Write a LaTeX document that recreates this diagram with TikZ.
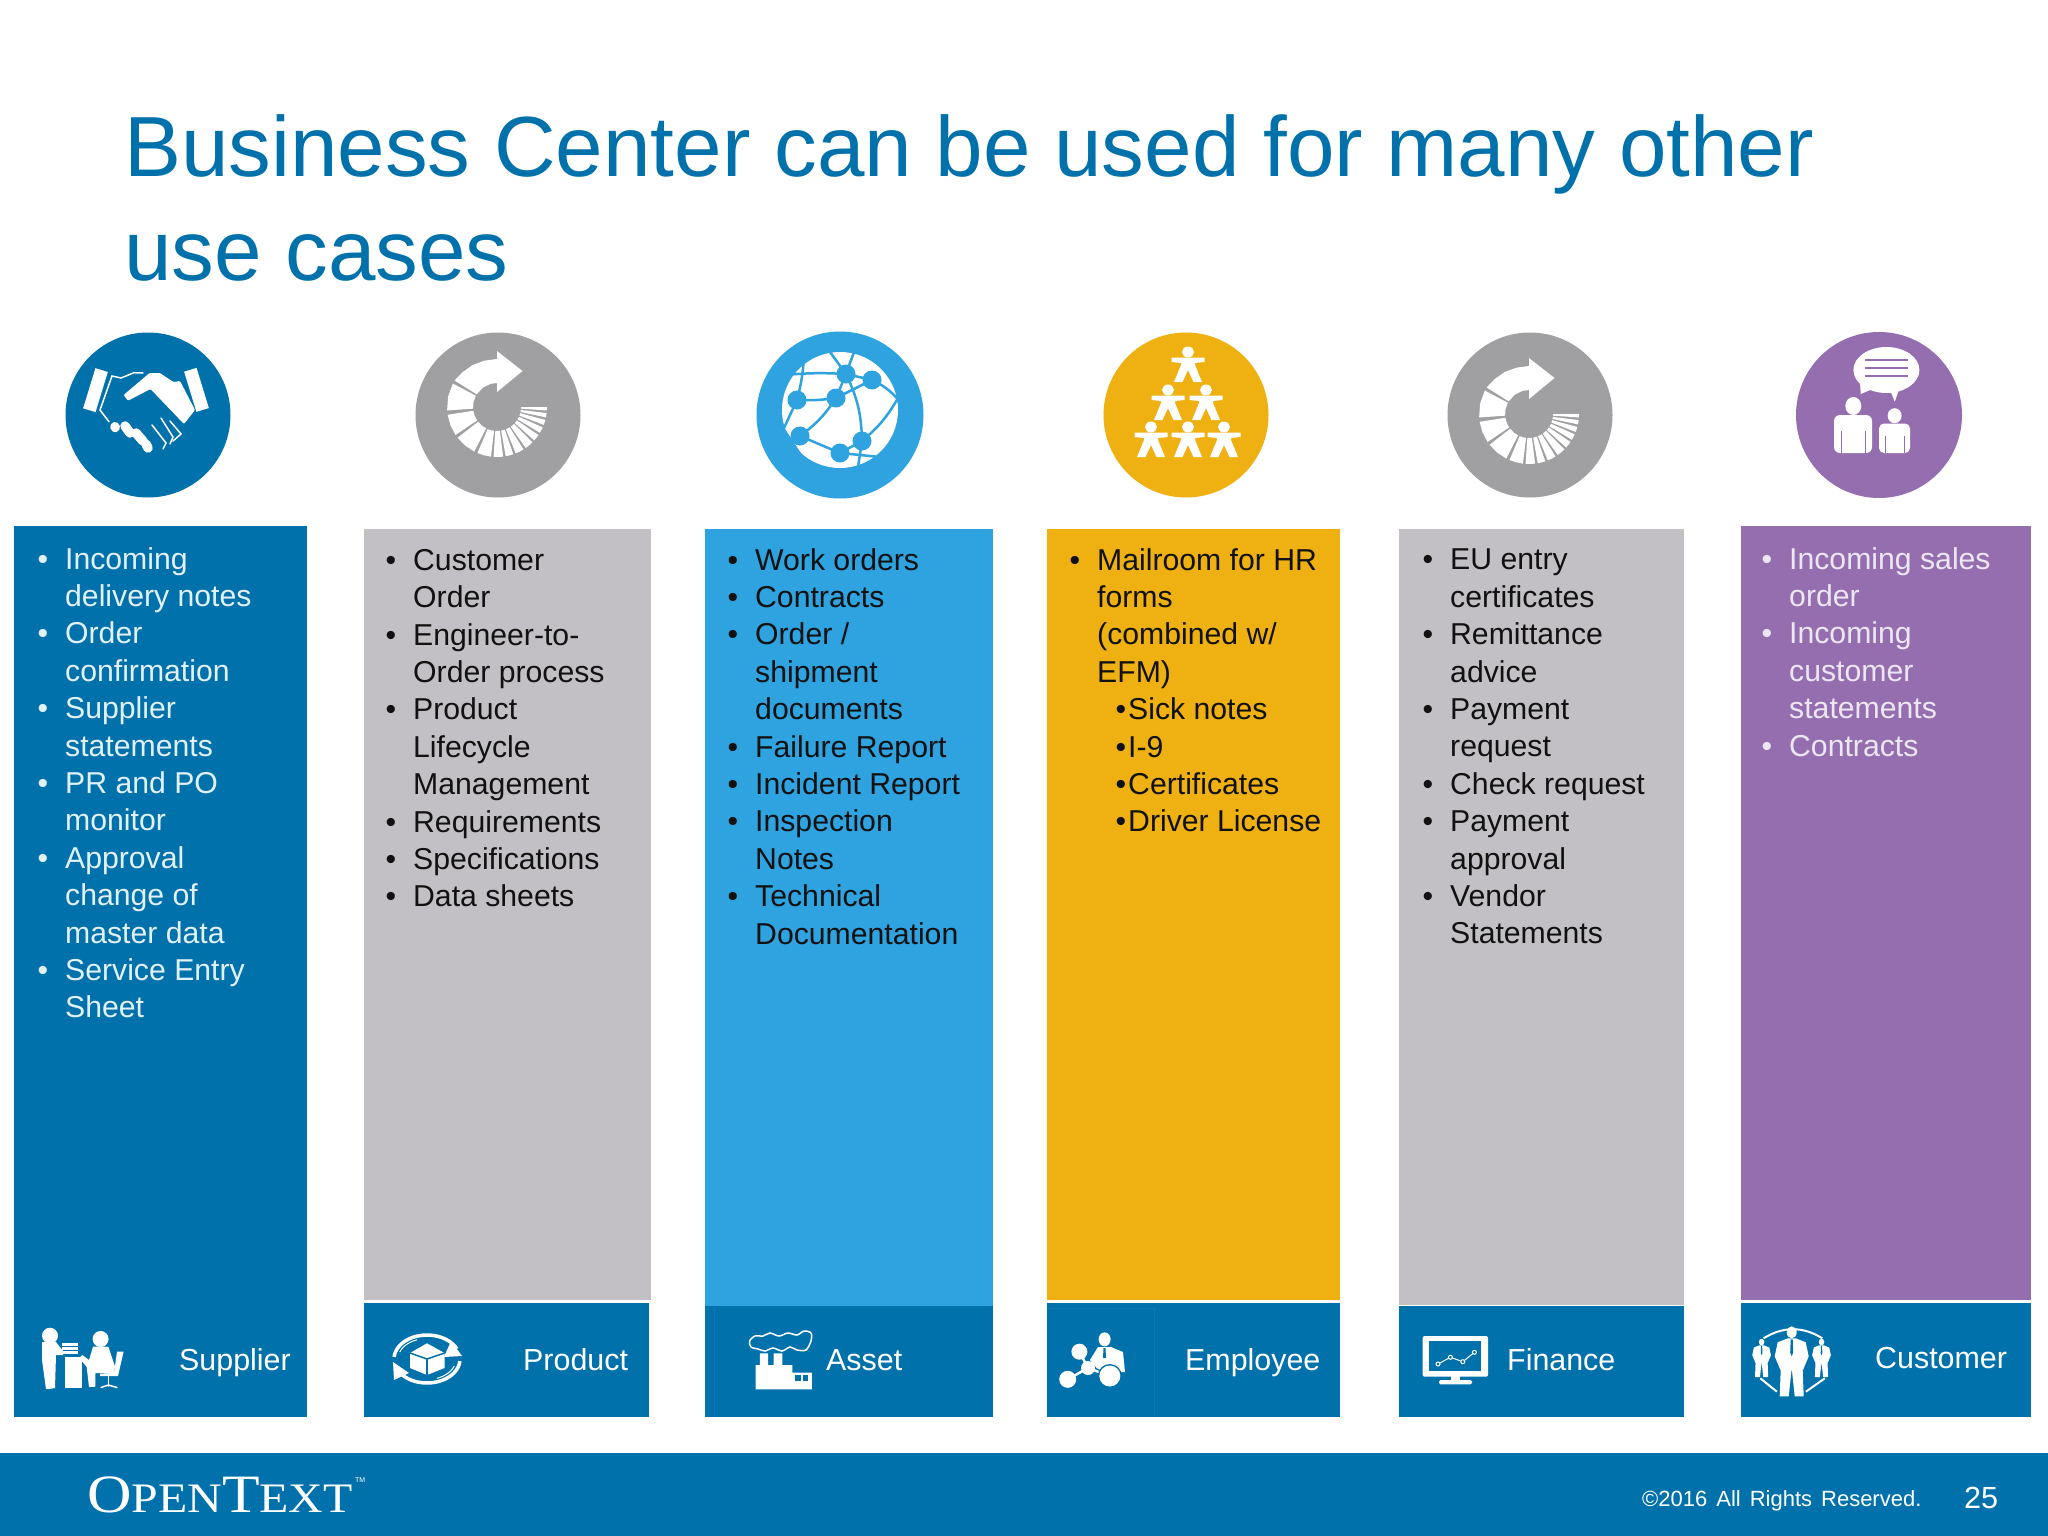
\documentclass[tikz,border=0pt]{standalone}
\usepackage{fontspec}
\setmainfont{Liberation Sans}
\newfontfamily\logofont{Liberation Serif}
\usetikzlibrary{shapes.geometric,calc}
\definecolor{oblue}{HTML}{0071AA}
\definecolor{oedge}{HTML}{0F79AF}
\definecolor{osky}{HTML}{2FA2E0}
\definecolor{ograyd}{HTML}{A09FA2}
\definecolor{ograyl}{HTML}{C2C0C4}
\definecolor{oyellow}{HTML}{EEB111}
\definecolor{opurple}{HTML}{956EB0}
\definecolor{opaleb}{HTML}{E2F1F8}
\definecolor{opalep}{HTML}{EDE6F3}
\definecolor{oink}{HTML}{111111}
\newcommand{\itm}{\leavevmode\llap{\textbullet\hspace{17pt}}}
\newcommand{\sitm}{\leavevmode\llap{\textbullet\hspace{2pt}}}
\newcommand{\spiralicon}[2]{%
  \begin{scope}[shift={(#1,#2)}, white]
    \foreach \a/\b in {0/4, 7/12, 15/21, 24/31, 34/42, 45/55, 58/68, 71/80, 83/94, 97/113, 117/142, 146/171, 176/208} {
      \fill (\a:24) -- (\a:50) -- ({(\a+\b)/2}:50) -- (\b:50) -- (\b:24) -- ({(\a+\b)/2}:24) -- cycle;
    }
    \fill (212:50) -- (225:49) -- (240:48.5) -- (255:48) -- (0,-48) -- (0,-56) -- (25.5,-36) -- (0,-15) -- (0,-24) -- (255:24) -- (235:24) -- (212:24) -- cycle;
  \end{scope}}
\newcommand{\suitman}[3]{%
  \begin{scope}[shift={(#1,#2)}, scale=#3]
    \fill[white] (0,0) ellipse (5 and 6);
    \fill[white] (-4,6) -- (4,6) -- (14,10) -- (17,24) -- (12,36) -- (11,38) -- (12,64) -- (3,64) -- (0,36) -- (-3,64) -- (-12,64) -- (-11,38) -- (-12,36) -- (-17,24) -- (-14,10) -- cycle;
    \fill[oblue] (-1,7) -- (1,7) -- (1.5,20) -- (0,24) -- (-1.5,20) -- cycle;
  \end{scope}}

\begin{document}
\begin{tikzpicture}[x=1pt, y=-1pt]
\tikzstyle{col}=[rectangle, draw=none, inner sep=0, anchor=north west]
\tikzstyle{bar}=[col, fill=oblue]
\tikzstyle{disc}=[circle, draw=none, inner sep=0]
\tikzstyle{listing}=[inner sep=0, anchor=north west, align=left, font=\fontsize{30.2}{37.4}\selectfont, oink]
\tikzstyle{lbl}=[inner sep=0, anchor=base west, white, font=\fontsize{30.4}{36}\selectfont]
\tikzstyle{icon}=[fill=white, draw=none]
\tikzstyle{wire}=[white, line width=1.5pt, line cap=round]
\tikzstyle{finger}=[white, line width=9.5pt, line cap=round]
\tikzstyle{link}=[osky, line width=2.5pt]

\useasboundingbox (0,0) rectangle (2048,1536);
\fill[white] (0,0) rectangle (2048,1536);

\node[inner sep=0, anchor=base west, oblue, align=left, font=\fontsize{85.4}{104}\selectfont] (title) at (124,280) {Business Center can be used for many other\\use cases};

\node[disc, fill=oblue,   minimum size=165] (handshake) at (148,415)  {};
\node[disc, fill=ograyd,  minimum size=165] (spirala)   at (498,415)  {};
\node[disc, fill=osky,    minimum size=167] (globe)     at (840,415)  {};
\node[disc, fill=oyellow, minimum size=165] (pyramid)   at (1186,415) {};
\node[disc, fill=ograyd,  minimum size=165] (spiralb)   at (1530,415) {};
\node[disc, fill=opurple, minimum size=166] (talk)      at (1879,415) {};

\node[col, fill=oblue,   minimum width=293, minimum height=891] (supplier) at (14,526)   {};
\node[col, fill=ograyl,  minimum width=287, minimum height=771] (product)  at (364,529)  {};
\node[col, fill=osky,    minimum width=288, minimum height=777] (asset)    at (705,529)  {};
\node[col, fill=oyellow, minimum width=293, minimum height=771] (employee) at (1046.5,529) {};
\node[col, fill=ograyl,  minimum width=285, minimum height=776] (finance)  at (1399,529) {};
\node[col, fill=opurple, minimum width=290, minimum height=774] (customer) at (1741,526) {};

\node[bar, minimum width=285, minimum height=114] (productbar)  at (364,1303)  {};
\node[bar, minimum width=288, minimum height=111] (assetbar)    at (705,1306)  {};
\node[bar, minimum width=293, minimum height=114] (employeebar) at (1046.5,1303) {};
\node[bar, minimum width=285, minimum height=111] (financebar)  at (1399,1306) {};
\node[bar, minimum width=290, minimum height=114] (customerbar) at (1741,1303) {};
\node[bar, minimum width=2048, minimum height=83] (footer)      at (0,1453)    {};

\draw[oedge, line width=1pt] (714,1308) -- (714,1416);
\draw[oedge, line width=1pt] (1047,1308) -- (1154,1308) -- (1154,1416);

\node[listing, opaleb] (suppliertxt) at ([shift={(51,21)}]supplier.north west) {%
\itm Incoming\\delivery notes\\
\itm Order\\confirmation\\
\itm Supplier\\statements\\
\itm PR and PO\\monitor\\
\itm Approval\\change of\\master data\\
\itm Service Entry\\Sheet};
\node[listing] (producttxt) at ([shift={(49,20)}]product.north west) {%
\itm Customer\\Order\\
\itm Engineer-to-\\Order process\\
\itm Product\\Lifecycle\\Management\\
\itm Requirements\\
\itm Specifications\\
\itm Data sheets};
\node[listing] (assettxt) at ([shift={(50,19)}]asset.north west) {%
\itm Work orders\\
\itm Contracts\\
\itm Order /\\shipment\\documents\\
\itm Failure Report\\
\itm Incident Report\\
\itm Inspection\\Notes\\
\itm Technical\\Documentation};
\node[listing] (employeetxt) at ([shift={(50.5,19)}]employee.north west) {%
\itm Mailroom for HR\\forms\\(combined w/\\EFM)\\
\hspace*{31pt}\sitm Sick notes\\
\hspace*{31pt}\sitm I-9\\
\hspace*{31pt}\sitm Certificates\\
\hspace*{31pt}\sitm Driver License};
\node[listing] (financetxt) at ([shift={(51,20)}]finance.north west) {%
\itm EU entry\\certificates\\
\itm Remittance\\advice\\
\itm Payment\\request\\
\itm Check request\\
\itm Payment\\approval\\
\itm Vendor\\Statements};
\node[listing, opalep] (customertxt) at ([shift={(48,21)}]customer.north west) {%
\itm Incoming sales\\order\\
\itm Incoming\\customer\\statements\\
\itm Contracts};

\node[lbl] (supplierlbl) at ([shift={(165,-47)}]supplier.south west)    {Supplier};
\node[lbl] (productlbl)  at ([shift={(159,-47)}]productbar.south west)  {Product};
\node[lbl] (assetlbl)    at ([shift={(121,-47)}]assetbar.south west)    {Asset};
\node[lbl] (employeelbl) at ([shift={(138.5,-47)}]employeebar.south west) {Employee};
\node[lbl] (financelbl)  at ([shift={(108,-47)}]financebar.south west)  {Finance};
\node[lbl] (customerlbl) at ([shift={(134,-49)}]customerbar.south west) {Customer};

\node[inner sep=0, anchor=base west, white, font=\logofont] (logo) at (87,1512.7) {\scalebox{1.14}[1]{\fontsize{54}{54}\selectfont O\fontsize{42}{54}\selectfont PEN\fontsize{54}{54}\selectfont T\fontsize{42}{54}\selectfont EXT}};
\node[inner sep=0, anchor=north west, white, font=\fontsize{7}{7}\selectfont] (tm) at (355,1477) {TM};
\node[inner sep=0, anchor=base west, white, font=\fontsize{22}{24}\selectfont] (rights) at (1642,1506) {\spaceskip=9pt ©2016 All Rights Reserved.};
\node[inner sep=0, anchor=base west, white, font=\fontsize{30.6}{36}\selectfont] (page) at (1964,1508) {25};

\fill[icon, rotate around={-17:(95,390)}] (89,369) rectangle (102,411);
\fill[icon, rotate around={17:(196,390)}] (190,369) rectangle (203,411);
\fill[icon, rounded corners=1pt] (123.6,395) -- (149.6,373) -- (160,373) -- (173.5,382) -- (180,381) -- (195,410) -- (184,424) -- (150.5,389) -- (128,400.7) -- cycle;
\draw[wire] (143,373) -- (134,372.7) -- (121,378) -- (112,376) -- (100,410) -- (109,421.7);
\draw[finger] (115,426.7) -- (115.2,427.5);
\draw[finger] (125,426) -- (130,433);
\draw[finger] (136,433) -- (143,441);
\draw[finger] (146,444) -- (148,448);
\draw[wire] (152,425) -- (166,443) -- (163,449);
\draw[wire] (161,418) -- (173,437) -- (170,444);
\draw[wire] (170,421) -- (181,434) -- (173,441);

\spiralicon{497}{407}
\spiralicon{1529}{414}

\fill[icon] (840,410) circle (58);
\foreach \x/\y in {797/400, 846/374, 872/380, 836/398, 800/436, 862/441, 840/453} {
  \fill[osky] (\x,\y) ellipse (9.5 and 9.5);
}
\draw[link] (797,400) to[bend right=5] (836,398);
\draw[link] (836,398) -- (846,374) -- (872,380);
\draw[link] (836,398) -- (872,380);
\draw[link] (797,400) to[bend right=5] (804,358);
\draw[link] (797,400) -- (784,428);
\draw[link] (846,374) to[bend right=4] (784,375);
\draw[link] (846,374) -- (830,352);
\draw[link] (846,374) -- (854,352);
\draw[link] (872,380) to[bend left=10] (897,398);
\draw[link] (846,374) to[bend left=12] (862,441);
\draw[link] (862,441) to[bend right=10] (898,398);
\draw[link] (836,398) to[bend left=10] (800,436);
\draw[link] (800,436) -- (840,453) -- (862,441);
\draw[link] (840,453) -- (880,457);
\draw[link] (862,441) -- (858,467);
\draw[osky, line width=9pt] (779,428) -- (806,469);

\foreach \x/\y in {1188/352, 1168/390, 1206/390, 1151/427, 1188/427, 1224/427} {
  \begin{scope}[shift={(\x,\y)}]
    \fill[icon] (0,0) ellipse (6 and 5.5);
    \fill[icon] (-16.5,5.5) -- (16.5,5.5) -- (16.5,10) -- (7,11) -- (7,13) -- (14,30) -- (5.5,30) -- (0,18) -- (-5.5,30) -- (-14,30) -- (-7,13) -- (-7,11) -- (-16.5,10) -- cycle;
  \end{scope}
}

\fill[icon] (1886.4,370) ellipse (33 and 23);
\fill[icon] (1860,381.7) -- (1860.7,394) -- (1875,388) -- (1889.7,389) -- (1894.7,401.7) -- (1900,387) -- cycle;
\foreach \y in {360,368,376} {
  \draw[opurple, line width=2pt] (1865,\y) -- (1908,\y);
}
\fill[icon] (1853.3,406) ellipse (8 and 9);
\fill[icon, rounded corners=6pt] (1834,453) -- (1834,415) -- (1872,415) -- (1872,453) -- cycle;
\draw[opurple, line width=1pt] (1841,431) -- (1841,453);
\draw[opurple, line width=1pt] (1865,431) -- (1865,453);
\fill[icon] (1894.6,415.7) ellipse (7 and 7.5);
\fill[icon, rounded corners=5pt] (1879,453) -- (1879,423.5) -- (1910,423.5) -- (1910,453) -- cycle;
\draw[opurple, line width=1pt] (1885,436) -- (1885,453);
\draw[opurple, line width=1pt] (1904,436) -- (1904,453);

\fill[icon] (50,1335.7) circle (8);
\fill[icon] (42,1342) -- (56,1342) -- (63,1351) -- (63,1355) -- (56,1355) -- (55,1388) -- (49,1389) -- (46,1389) -- (42,1360) -- cycle;
\foreach \y in {1343,1347,1351} {
  \fill[icon] (62,\y) rectangle (78,\y+2.5);
}
\fill[icon] (65,1357) rectangle (81.5,1388);
\fill[icon] (100.6,1339) circle (8);
\fill[icon] (93,1346.7) -- (108.4,1346.7) -- (115,1366.7) -- (113.6,1374) -- (95.4,1373) -- (95.4,1386.7) -- (89,1387) -- (86.7,1367) -- (79.4,1358) -- (82.4,1355) -- (89,1360) -- cycle;
\fill[icon] (117,1351.7) -- (123.6,1351.7) -- (118,1376) -- (100,1376) -- (100,1374) -- (114,1373) -- cycle;
\draw[wire] (108.4,1375) -- (108.4,1386);
\draw[wire] (101,1387.5) -- (108.4,1385) -- (117,1387.5);

\fill[icon] (427,1343.3) -- (444.5,1353) -- (444.5,1368) -- (427,1375) -- (410,1368) -- (410,1353) -- cycle;
\draw[oblue, line width=1.5pt] (410,1353) -- (427,1359) -- (444.5,1353);
\draw[oblue, line width=1.5pt] (427,1359) -- (427,1375);
\draw[white, line width=3.5pt] plot[domain=185:335, samples=24] ({427+33*cos(\x)},{1359+24*sin(\x)});
\draw[white, line width=3.5pt] plot[domain=5:150, samples=24] ({427+33*cos(\x)},{1359+24*sin(\x)});
\draw[white, line width=1pt] plot[domain=200:250, samples=12] ({427+29*cos(\x)},{1359+20.5*sin(\x)});
\draw[white, line width=1pt] plot[domain=20:70, samples=12] ({427+29*cos(\x)},{1359+20.5*sin(\x)});
\fill[icon] (451,1341) -- (462,1356) -- (444,1357) -- cycle;
\fill[icon] (393,1362) -- (409,1373) -- (394,1380) -- cycle;

\fill[icon] (755.5,1389.3) -- (755.5,1365) -- (759.8,1365) -- (759.8,1353.3) -- (768,1353.3) -- (768,1365) -- (773.7,1365) -- (773.7,1353.3) -- (782.4,1353.3) -- (782.4,1365) -- (792.4,1365) -- (792.4,1372.7) -- (811.9,1372.7) -- (811.9,1389.3) -- cycle;
\fill[oblue] (795.4,1375) rectangle (800.6,1380.7);
\fill[oblue] (803.2,1375) rectangle (808.4,1380.7);
\draw[wire] plot[smooth cycle] coordinates {(749.5,1341) (755,1336) (763,1336) (770,1333) (779,1336) (788,1333) (797,1335) (804,1331) (811,1333) (811,1341) (806,1350) (797,1350) (790,1347) (782,1351) (773,1348) (765,1351) (758,1349) (751,1347)};

\fill[icon] (1104.6,1339.3) ellipse (6 and 7);
\fill[icon] (1098,1347) -- (1111,1347) -- (1123,1352) -- (1125,1372) -- (1100,1372) -- (1090,1360) -- cycle;
\fill[oblue] (1103.5,1348) -- (1105.5,1348) -- (1106,1358) -- (1103,1358) -- cycle;
\draw[oblue, line width=5pt] (1079.4,1351.7) -- (1088,1368) -- (1109.8,1376);
\draw[white, line width=2.5pt] (1079.4,1351.7) -- (1088,1368) -- (1067.7,1379.3);
\draw[white, line width=2.5pt] (1088,1368) -- (1109.8,1376);
\fill[oblue] (1109.8,1376) circle (12);
\fill[icon] (1079.4,1351.7) circle (8);
\fill[icon] (1088,1368) circle (7);
\fill[icon] (1067.7,1379.3) circle (8.5);
\fill[icon] (1109.8,1376) circle (10.5);

\fill[icon, rounded corners=2pt] (1422.7,1336) rectangle (1488,1376.7);
\fill[oblue] (1429,1340.7) rectangle (1481.4,1371);
\fill[icon] (1451,1376) rectangle (1460,1381);
\fill[icon, rounded corners=1.5pt] (1439,1380) rectangle (1472,1384.3);
\draw[white, line width=1pt] (1438,1364) -- (1450.4,1357.3) -- (1462.8,1361.7) -- (1474.4,1352.3);
\foreach \x/\y in {1438/1364, 1450.4/1357.3, 1462.8/1361.7, 1474.4/1352.3} {
  \draw[white, fill=oblue, line width=1pt] (\x,\y) circle (2);
}

\suitman{1791.7}{1332.3}{1}
\suitman{1761.6}{1342}{0.55}
\suitman{1821.5}{1342}{0.55}
\draw[white, line width=2pt] (1763.6,1338.3) to[bend left=32] (1822.3,1338.3);
\draw[white, line width=2pt] (1760.3,1378.3) -- (1776.9,1391.7);
\draw[white, line width=2pt] (1824.8,1378.3) -- (1805.8,1391.7);
\end{tikzpicture}
\end{document}
